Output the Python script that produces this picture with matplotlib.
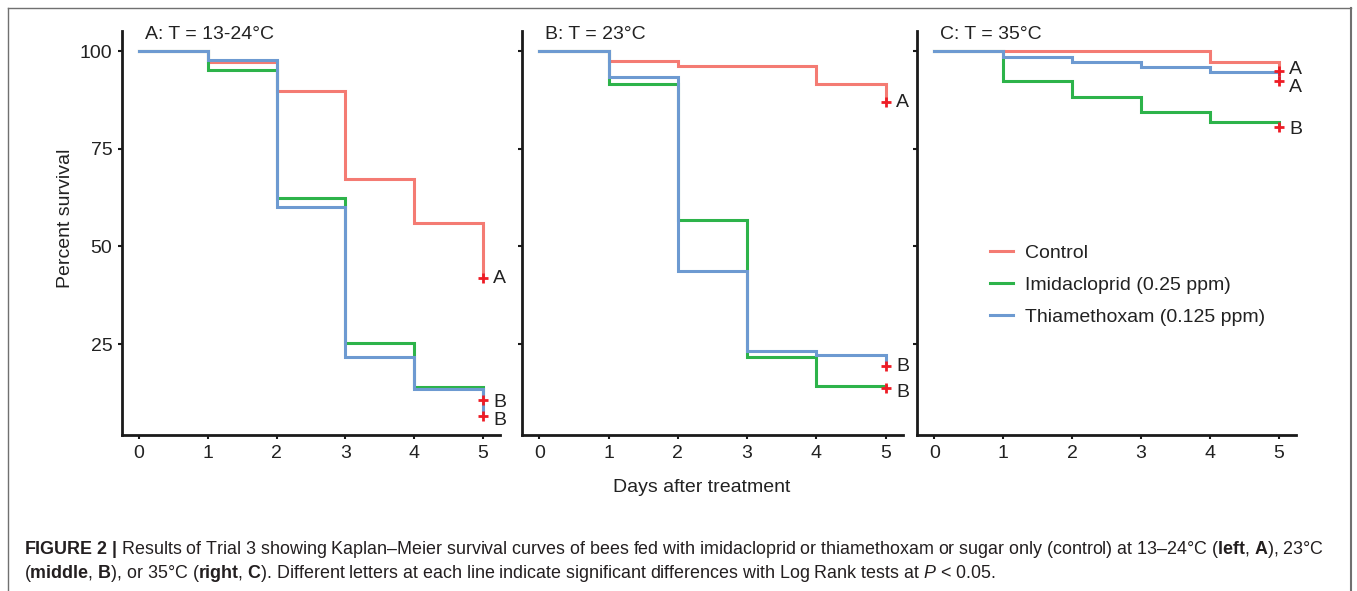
import numpy as np
import matplotlib
matplotlib.use("Agg")
import matplotlib.pyplot as plt
from matplotlib.lines import Line2D

plt.rcParams['font.family'] = ['Liberation Sans', 'DejaVu Sans']
plt.rcParams['mathtext.fontset'] = 'custom'
plt.rcParams['mathtext.rm'] = 'Liberation Sans'
plt.rcParams['mathtext.bf'] = 'Liberation Sans:bold'
plt.rcParams['mathtext.it'] = 'Liberation Sans:italic'

days = [0, 1, 2, 3, 4, 5]
series = ["Control", "Imidacloprid (0.25 ppm)", "Thiamethoxam (0.125 ppm)"]
colors = ['#F47B73', '#2DB34A', '#6D9AD1']

titles = ["A: T = 13-24\u00b0C", "B: T = 23\u00b0C", "C: T = 35\u00b0C"]

# percent survival per day, panel A / B / C
surv_a = [[100, 97.3, 89.9, 67.3, 56.1, 42.0],
          [100, 95.1, 62.5, 25.3, 14.1, 10.6],
          [100, 97.7, 60.2, 21.6, 13.5, 6.5]]
surv_b = [[100, 97.5, 96.2, 96.2, 91.5, 86.9],
          [100, 91.5, 56.9, 21.6, 14.2, 13.8],
          [100, 93.5, 43.8, 23.3, 22.3, 19.5]]
surv_c = [[100, 100, 100, 100, 97.3, 94.9],
          [100, 92.3, 88.3, 84.5, 82.0, 80.7],
          [100, 98.6, 97.3, 96.0, 94.8, 92.4]]

# significance letters and their heights
letters_a = [("A", 41.7), ("B", 9.9), ("B", 5.3)]
letters_b = [("A", 86.9), ("B", 19.2), ("B", 12.5)]
letters_c = [("A", 95.4), ("A", 90.6), ("B", 79.9)]

yticks = [25, 50, 75, 100]

W, H = 1357, 591
fig = plt.figure(figsize=(W / 100, H / 100), dpi=100)

boxes = [(122, 500), (522, 903), (917, 1296)]
ax_top, ax_bot = 31, 435
panels = [(surv_a, letters_a), (surv_b, letters_b), (surv_c, letters_c)]

axes = []
for i, ((x0, x1), (surv, letters)) in enumerate(zip(boxes, panels)):
    ax = fig.add_axes([x0 / W, (H - ax_bot) / H, (x1 - x0) / W, (ax_bot - ax_top) / H])
    axes.append(ax)
    for vals, col, name in zip(surv, colors, series):
        ax.step(days, vals, where='post', color=col, lw=2.2, label=name,
                solid_joinstyle='miter')
    for vals in surv:
        ax.plot(days[-1], vals[-1], marker='+', color='#EE1C25', ms=7, mew=2,
                linestyle='none', zorder=5)
    for lab, yv in letters:
        ax.text(5.15, yv, lab, ha='left', va='center', fontsize=14, color='#222222')
    ax.text(0.08, 104.2, titles[i], ha='left', va='center', fontsize=14, color='#222222')
    ax.set_xlim(-0.25, 5.25)
    ax.set_ylim(1.7, 105.2)
    ax.set_xticks(days)
    ax.set_yticks(yticks)
    for s in ['top', 'right']:
        ax.spines[s].set_visible(False)
    for s in ['left', 'bottom']:
        ax.spines[s].set_linewidth(2.0)
        ax.spines[s].set_color('#1a1a1a')
    ax.tick_params(length=3, width=1.5, color='#1a1a1a', labelsize=14,
                   labelcolor='#222222', pad=4)
    if i > 0:
        ax.tick_params(axis='y', labelleft=False)

leg = axes[2].legend(loc='upper left', bbox_to_anchor=(0.193, 0.473), frameon=False,
                     fontsize=14, handlelength=1.2, handletextpad=0.6,
                     labelspacing=0.75, borderpad=0, borderaxespad=0)
for t in leg.get_texts():
    t.set_color('#222222')

fig.text(66 / W, (H - 218) / H, "Percent survival", rotation=90, ha='center',
         va='center', fontsize=14, color='#222222')
fig.text(702 / W, (H - 488) / H, "Days after treatment", ha='center', va='center',
         fontsize=14, color='#222222')

cap1 = (r"$\mathbf{FIGURE\ 2\ |}$ Results of Trial 3 showing Kaplan" + "\u2013" +
        "Meier survival curves of bees fed with imidacloprid or thiamethoxam or sugar "
        "only (control) at 13\u201324\u00b0C (" + r"$\mathbf{left}$, $\mathbf{A}$" +
        "), 23\u00b0C")
cap2 = (r"($\mathbf{middle}$, $\mathbf{B}$), or 35" + "\u00b0" +
        r"C ($\mathbf{right}$, $\mathbf{C}$). Different letters at each line indicate "
        r"significant differences with Log Rank tests at $P$ < 0.05.")
fig.text(24 / W, (H - 550) / H, cap1, ha='left', va='center', fontsize=12.9, color='#231F20')
fig.text(24 / W, (H - 574) / H, cap2, ha='left', va='center', fontsize=12.9, color='#231F20')

frame_col = '#707070'
fig.add_artist(Line2D([8 / W, 8 / W], [0, (H - 8) / H], color=frame_col, lw=1))
fig.add_artist(Line2D([8 / W, 1351 / W], [(H - 8) / H, (H - 8) / H], color=frame_col, lw=1))
fig.add_artist(Line2D([1351 / W, 1351 / W], [0, (H - 8) / H], color=frame_col, lw=1.5))

fig.savefig("out.png", dpi=100)
